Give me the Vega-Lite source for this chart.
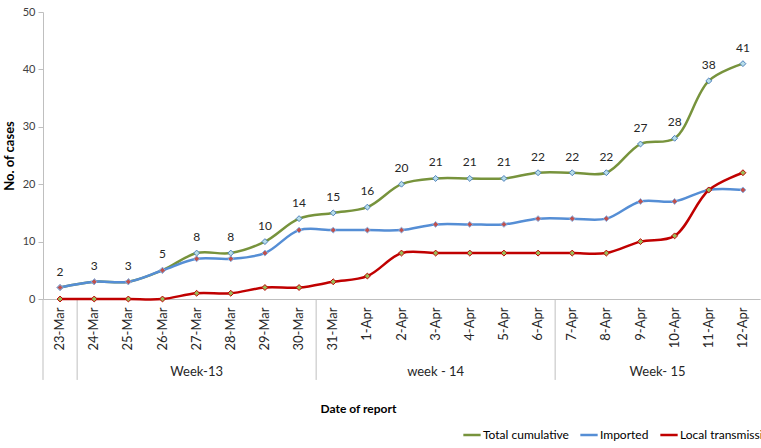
{
  "$schema": "https://vega.github.io/schema/vega-lite/v6.json",
  "autosize": {"type": "none"},
  "padding": {"left": 43, "top": 12, "right": 1, "bottom": 149},
  "width": 717,
  "height": 287,
  "config": {"view": {"stroke": null}, "font": "Lato", "text": {"font": "Lato"}},
  "datasets": {
    "cases": [
      {"date": "23-Mar", "series": "Total cumulative", "value": 2},
      {"date": "24-Mar", "series": "Total cumulative", "value": 3},
      {"date": "25-Mar", "series": "Total cumulative", "value": 3},
      {"date": "26-Mar", "series": "Total cumulative", "value": 5},
      {"date": "27-Mar", "series": "Total cumulative", "value": 8},
      {"date": "28-Mar", "series": "Total cumulative", "value": 8},
      {"date": "29-Mar", "series": "Total cumulative", "value": 10},
      {"date": "30-Mar", "series": "Total cumulative", "value": 14},
      {"date": "31-Mar", "series": "Total cumulative", "value": 15},
      {"date": "1-Apr", "series": "Total cumulative", "value": 16},
      {"date": "2-Apr", "series": "Total cumulative", "value": 20},
      {"date": "3-Apr", "series": "Total cumulative", "value": 21},
      {"date": "4-Apr", "series": "Total cumulative", "value": 21},
      {"date": "5-Apr", "series": "Total cumulative", "value": 21},
      {"date": "6-Apr", "series": "Total cumulative", "value": 22},
      {"date": "7-Apr", "series": "Total cumulative", "value": 22},
      {"date": "8-Apr", "series": "Total cumulative", "value": 22},
      {"date": "9-Apr", "series": "Total cumulative", "value": 27},
      {"date": "10-Apr", "series": "Total cumulative", "value": 28},
      {"date": "11-Apr", "series": "Total cumulative", "value": 38},
      {"date": "12-Apr", "series": "Total cumulative", "value": 41},
      {"date": "23-Mar", "series": "Imported", "value": 2},
      {"date": "24-Mar", "series": "Imported", "value": 3},
      {"date": "25-Mar", "series": "Imported", "value": 3},
      {"date": "26-Mar", "series": "Imported", "value": 5},
      {"date": "27-Mar", "series": "Imported", "value": 7},
      {"date": "28-Mar", "series": "Imported", "value": 7},
      {"date": "29-Mar", "series": "Imported", "value": 8},
      {"date": "30-Mar", "series": "Imported", "value": 12},
      {"date": "31-Mar", "series": "Imported", "value": 12},
      {"date": "1-Apr", "series": "Imported", "value": 12},
      {"date": "2-Apr", "series": "Imported", "value": 12},
      {"date": "3-Apr", "series": "Imported", "value": 13},
      {"date": "4-Apr", "series": "Imported", "value": 13},
      {"date": "5-Apr", "series": "Imported", "value": 13},
      {"date": "6-Apr", "series": "Imported", "value": 14},
      {"date": "7-Apr", "series": "Imported", "value": 14},
      {"date": "8-Apr", "series": "Imported", "value": 14},
      {"date": "9-Apr", "series": "Imported", "value": 17},
      {"date": "10-Apr", "series": "Imported", "value": 17},
      {"date": "11-Apr", "series": "Imported", "value": 19},
      {"date": "12-Apr", "series": "Imported", "value": 19},
      {"date": "23-Mar", "series": "Local transmission", "value": 0},
      {"date": "24-Mar", "series": "Local transmission", "value": 0},
      {"date": "25-Mar", "series": "Local transmission", "value": 0},
      {"date": "26-Mar", "series": "Local transmission", "value": 0},
      {"date": "27-Mar", "series": "Local transmission", "value": 1},
      {"date": "28-Mar", "series": "Local transmission", "value": 1},
      {"date": "29-Mar", "series": "Local transmission", "value": 2},
      {"date": "30-Mar", "series": "Local transmission", "value": 2},
      {"date": "31-Mar", "series": "Local transmission", "value": 3},
      {"date": "1-Apr", "series": "Local transmission", "value": 4},
      {"date": "2-Apr", "series": "Local transmission", "value": 8},
      {"date": "3-Apr", "series": "Local transmission", "value": 8},
      {"date": "4-Apr", "series": "Local transmission", "value": 8},
      {"date": "5-Apr", "series": "Local transmission", "value": 8},
      {"date": "6-Apr", "series": "Local transmission", "value": 8},
      {"date": "7-Apr", "series": "Local transmission", "value": 8},
      {"date": "8-Apr", "series": "Local transmission", "value": 8},
      {"date": "9-Apr", "series": "Local transmission", "value": 10},
      {"date": "10-Apr", "series": "Local transmission", "value": 11},
      {"date": "11-Apr", "series": "Local transmission", "value": 19},
      {"date": "12-Apr", "series": "Local transmission", "value": 22}
    ],
    "separators": [
      {"date": "23-Mar"},
      {"date": "24-Mar"},
      {"date": "31-Mar"},
      {"date": "7-Apr"}
    ],
    "weeks": [
      {"date": "27-Mar", "week": "Week-13"},
      {"date": "3-Apr", "week": "week - 14"}
    ],
    "weeks2": [
      {"date": "9-Apr", "week": "Week- 15"}
    ]
  },
  "layer": [
    {
      "data": {"name": "separators"},
      "mark": {"type": "rule", "color": "#BFBFBF", "strokeWidth": 1},
      "encoding": {
        "x": {"field": "date", "type": "ordinal", "bandPosition": 0},
        "y": {"datum": 0, "type": "quantitative"},
        "y2": {"datum": -14.1}
      }
    },
    {
      "data": {"name": "weeks"},
      "mark": {"type": "text", "fontSize": 13, "color": "#262626", "baseline": "middle"},
      "encoding": {
        "x": {"field": "date", "type": "ordinal", "bandPosition": 0.5},
        "y": {"datum": -12.8, "type": "quantitative"},
        "text": {"field": "week"}
      }
    },
    {
      "data": {"name": "weeks2"},
      "mark": {"type": "text", "fontSize": 13, "color": "#262626", "baseline": "middle"},
      "encoding": {
        "x": {"field": "date", "type": "ordinal", "bandPosition": 1},
        "y": {"datum": -12.8, "type": "quantitative"},
        "text": {"field": "week"}
      }
    },
    {
      "data": {"name": "cases"},
      "mark": {"type": "line", "interpolate": "catmull-rom", "strokeWidth": 2.5},
      "encoding": {
        "x": {
          "field": "date", "type": "ordinal",
          "sort": null,
          "scale": {
            "type": "band", "paddingInner": 0, "paddingOuter": 0,
            "domain": ["23-Mar","24-Mar","25-Mar","26-Mar","27-Mar","28-Mar","29-Mar","30-Mar","31-Mar","1-Apr","2-Apr","3-Apr","4-Apr","5-Apr","6-Apr","7-Apr","8-Apr","9-Apr","10-Apr","11-Apr","12-Apr"]
          },
          "axis": {
            "labelAngle": 270, "labelFontSize": 13, "labelColor": "#262626",
            "ticks": false, "labelPadding": 8, "domainColor": "#BFBFBF",
            "title": "Date of report", "titleFontSize": 12, "titleFontWeight": "bold",
            "titleColor": "#000000", "titleX": 315, "titleY": 109, "titleBaseline": "middle"
          }
        },
        "y": {
          "field": "value", "type": "quantitative",
          "scale": {"domain": [0, 50], "nice": false},
          "axis": {
            "values": [0,5,10,15,20,25,30,35,40,45,50],
            "grid": false, "tickSize": 5, "tickColor": "#BFBFBF", "domainColor": "#BFBFBF",
            "labelFontSize": 11, "labelColor": "#404040", "labelPadding": 3,
            "title": "No. of cases", "titleFontSize": 13, "titleFontWeight": "bold",
            "titleColor": "#000000", "titlePadding": 6
          }
        },
        "color": {
          "field": "series", "type": "nominal",
          "scale": {
            "domain": ["Total cumulative", "Imported", "Local transmission"],
            "range": ["#77933C", "#558ED5", "#C00000"]
          },
          "legend": {
            "orient": "none", "legendX": 419, "legendY": 413, "direction": "horizontal",
            "title": null, "symbolType": "stroke", "symbolStrokeWidth": 2.5, "symbolSize": 300,
            "labelFontSize": 12, "labelColor": "#000000", "columnPadding": 6, "labelOffset": 1
          }
        }
      }
    },
    {
      "data": {"name": "cases"},
      "mark": {"type": "point", "shape": "diamond", "filled": true, "size": 35, "strokeWidth": 1, "opacity": 1},
      "encoding": {
        "x": {"field": "date", "type": "ordinal"},
        "y": {"field": "value", "type": "quantitative"},
        "fill": {
          "field": "series", "type": "nominal", "legend": null,
          "scale": {"domain": ["Total cumulative", "Imported", "Local transmission"], "range": ["#B7DEE8", "#C0504D", "#9BBB59"]}
        },
        "stroke": {
          "field": "series", "type": "nominal", "legend": null,
          "scale": {"domain": ["Total cumulative", "Imported", "Local transmission"], "range": ["#4F81BD", "#8DB3E2", "#C00000"]}
        }
      }
    },
    {
      "data": {"name": "cases"},
      "transform": [{"filter": "datum.series == 'Total cumulative'"}],
      "mark": {"type": "text", "dy": -16, "fontSize": 12, "color": "#262626"},
      "encoding": {
        "x": {"field": "date", "type": "ordinal"},
        "y": {"field": "value", "type": "quantitative"},
        "text": {"field": "value", "type": "quantitative"}
      }
    }
  ]
}
